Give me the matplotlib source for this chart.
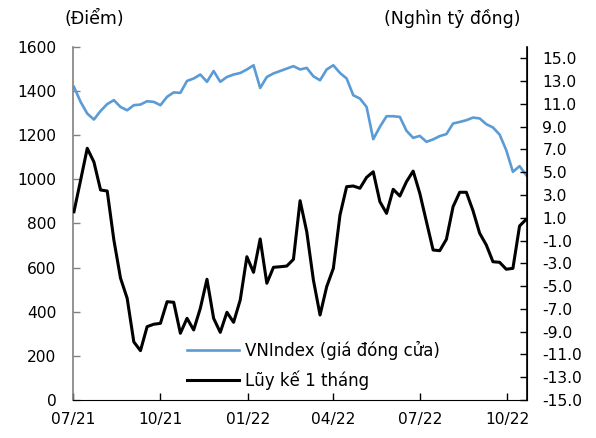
import matplotlib
matplotlib.use("Agg")
import matplotlib.pyplot as plt
import matplotlib.dates as mdates
import pandas as pd

plt.rcParams['font.family'] = ['DejaVu Sans']
plt.rcParams['axes.unicode_minus'] = False

# Weekly dates
dates = pd.date_range('2021-07-02', periods=69, freq='7D')

vnindex = [1419, 1351, 1298, 1271, 1310, 1341, 1359, 1328, 1313, 1336,
           1339, 1354, 1351, 1336, 1374, 1394, 1392, 1446, 1457, 1475,
           1442, 1491, 1442, 1464, 1475, 1482, 1498, 1517, 1414, 1464,
           1480, 1491, 1502, 1513, 1498, 1505, 1467, 1449, 1498, 1517,
           1482, 1457, 1381, 1366, 1328, 1182, 1238, 1286, 1286, 1283,
           1220, 1188, 1197, 1170, 1181, 1196, 1205, 1253, 1260, 1268,
           1280, 1276, 1250, 1235, 1203, 1132, 1034, 1060, 1019]

luy_ke = [1.53, 4.3, 7.1, 5.9, 3.44, 3.35, -0.95, -4.3, -6.07, -9.9,
          -10.67, -8.56, -8.35, -8.27, -6.37, -6.42, -9.14, -7.83, -8.85, -6.95,
          -4.4, -7.83, -9.06, -7.3, -8.18, -6.22, -2.42, -3.79, -0.86, -4.75,
          -3.35, -3.3, -3.24, -2.65, 2.5, -0.22, -4.46, -7.54, -5.05, -3.44,
          1.24, 3.73, 3.79, 3.59, 4.55, 5.04, 2.41, 1.39, 3.5, 2.91,
          4.17, 5.1, 3.15, 0.65, -1.83, -1.89, -0.89, 1.97, 3.24, 3.24,
          1.62, -0.36, -1.39, -2.86, -2.91, -3.52, -3.44, 0.28, 0.86]

left_ticks = [0, 200, 400, 600, 800, 1000, 1200, 1400, 1600]
right_ticks = [-15, -13, -11, -9, -7, -5, -3, -1, 1, 3, 5, 7, 9, 11, 13, 15]
x_tick_dates = pd.to_datetime(['2021-07-01', '2021-10-01', '2022-01-01',
                               '2022-04-01', '2022-07-01', '2022-10-01'])

label_left = 'VNIndex (giá đóng cửa)'
label_right = 'Lũy kế 1 tháng'

fig = plt.figure(figsize=(5.96, 4.38), dpi=100)
ax = fig.add_axes([0.1225, 0.0868, 0.762, 0.806])
ax2 = ax.twinx()

FS = 11.2
l1, = ax.plot(dates, vnindex, color='#5B9BD5', lw=1.9, label=label_left)
l2, = ax2.plot(dates, luy_ke, color='black', lw=2.2, label=label_right)

ax.set_ylim(0, 1600)
ax.set_yticks(left_ticks)
ax2.set_ylim(-15, 16)
ax2.set_yticks(right_ticks)
ax2.set_yticklabels([f'{v:.1f}' for v in right_ticks])

ax.set_xlim(pd.Timestamp('2021-07-01'), dates[-1] + pd.Timedelta(days=1))
ax.set_xticks(x_tick_dates)
ax.xaxis.set_major_formatter(mdates.DateFormatter('%m/%y'))

for a in (ax, ax2):
    a.spines['top'].set_visible(False)
    a.tick_params(direction='in', length=5, labelsize=FS, width=1)

ax.spines['left'].set_color('#808080')
ax.spines['left'].set_linewidth(1.2)
ax.spines['bottom'].set_color('black')
ax2.spines['left'].set_visible(False)
ax2.spines['bottom'].set_visible(False)
ax2.spines['right'].set_color('black')
ax2.spines['right'].set_linewidth(1.2)
ax.tick_params(axis='y', colors='black', pad=12)
ax.tick_params(axis='y', color='#808080')
ax2.tick_params(axis='y', pad=11)
ax.tick_params(axis='x', pad=9)

fig.text(0.158, 0.957, '(Điểm)', fontsize=12.5, ha='center', va='center')
fig.text(0.758, 0.957, '(Nghìn tỷ đồng)', fontsize=12.5, ha='center', va='center')

ax2.legend([l1, l2], [label_left, label_right], loc='lower left',
           bbox_to_anchor=(0.218, -0.014), frameon=False, fontsize=12,
           handlelength=3.1, handletextpad=0.35, labelspacing=0.62)

fig.savefig('out.png', dpi=100)
